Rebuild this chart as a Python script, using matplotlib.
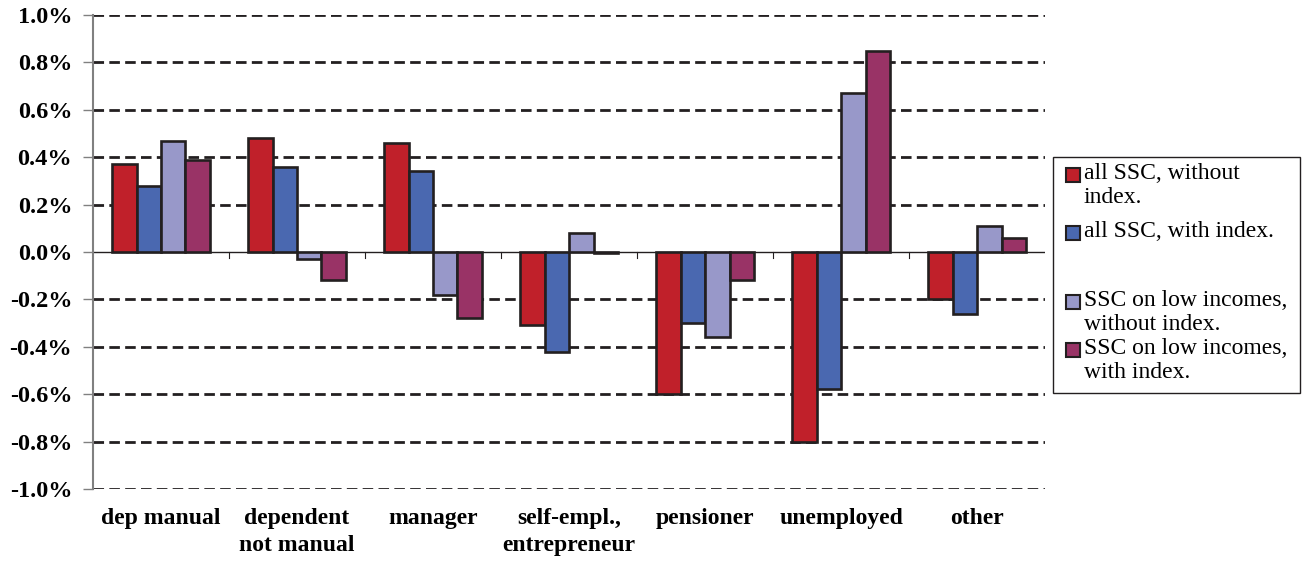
import matplotlib.pyplot as plt
import numpy as np
from matplotlib.patches import Rectangle
from matplotlib.ticker import FuncFormatter

# Data (change in %, by occupational group)
groups = ['dep manual', 'dependent\nnot manual', 'manager', 'self-empl.,\nentrepreneur',
          'pensioner', 'unemployed', 'other']
series_labels = ['all SSC, without\nindex.', 'all SSC, with index.',
                 'SSC on low incomes,\nwithout index.', 'SSC on low incomes,\nwith index.']

all_ssc_no_index = [0.37, 0.48, 0.46, -0.31, -0.60, -0.80, -0.20]
all_ssc_index = [0.28, 0.36, 0.34, -0.42, -0.30, -0.58, -0.26]
low_inc_no_index = [0.47, -0.03, -0.18, 0.08, -0.36, 0.67, 0.11]
low_inc_index = [0.39, -0.12, -0.28, -0.005, -0.12, 0.85, 0.06]

series = [all_ssc_no_index, all_ssc_index, low_inc_no_index, low_inc_index]
colors = ['#C0202A', '#4A68B0', '#9898C9', '#993366']

plt.rcParams['font.family'] = ['Liberation Serif', 'DejaVu Serif']

fig = plt.figure(figsize=(13.06, 5.61), dpi=100)
ax = fig.add_axes([0.0712, 0.1283, 0.7290, 0.8450])

x = np.arange(len(groups))
bar_width = 0.18
offsets = (np.arange(4) - 1.5) * bar_width

for vals, off, col in zip(series, offsets, colors):
    ax.bar(x + off, vals, bar_width, color=col, edgecolor='#231F20',
           linewidth=1.9, zorder=3)

ax.set_xlim(-0.5, len(groups) - 0.5)
ax.set_ylim(-1.0, 1.0)

# dashed gridlines at every 0.2 step, solid line at zero
yticks = np.round(np.arange(-1.0, 1.01, 0.2), 1)
for yv in yticks:
    if abs(yv) < 1e-9:
        continue
    ax.axhline(yv, color='#231F20', linewidth=2.0, linestyle=(0, (3.8, 1.9)), zorder=1)
ax.axhline(0, color='#231F20', linewidth=1.0, zorder=2)

# category separators hanging below the zero line
for b in np.arange(0.5, len(groups) - 0.5, 1.0):
    ax.plot([b, b], [0, -0.025], color='#231F20', linewidth=0.8, zorder=2)

ax.set_yticks(yticks)
ax.yaxis.set_major_formatter(FuncFormatter(lambda v, p: f'{v + 0.0:.1f}%'.replace('-0.0%', '0.0%')))
ax.tick_params(axis='y', direction='out', length=7, width=1, color='#808080',
               labelsize=17.5, pad=8)
for lab in ax.get_yticklabels():
    lab.set_fontweight('bold')

ax.set_xticks([])
for s in ['top', 'right', 'bottom']:
    ax.spines[s].set_visible(False)
ax.spines['left'].set_color('#808080')
ax.spines['left'].set_linewidth(1.5)

# category labels below the plot
for xi, name in zip(x, groups):
    ax.text(xi, -0.04, name, transform=ax.get_xaxis_transform(), ha='center', va='top',
            fontsize=17, fontweight='bold', linespacing=1.4)

# legend box drawn in figure pixels
W, H = 1306, 561
fig.patches.append(Rectangle((1053 / W, 1 - 393 / H), 247 / W, 236 / H,
                             transform=fig.transFigure, facecolor='white',
                             edgecolor='#231F20', linewidth=1.0))
entry_y = [175, 233, 302, 350]
for col, lab, yy in zip(colors, series_labels, entry_y):
    fig.patches.append(Rectangle((1066 / W, 1 - (yy + 7) / H), 14 / W, 14 / H,
                                 transform=fig.transFigure, facecolor=col,
                                 edgecolor='#231F20', linewidth=1.5))
    fig.text(1084 / W, 1 - (yy - 12) / H, lab, ha='left', va='top', fontsize=17,
             linespacing=1.2)

plt.savefig('out.png', dpi=100)
